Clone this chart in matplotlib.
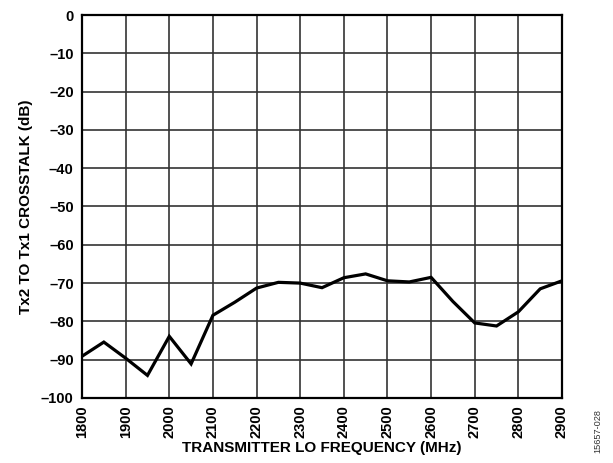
import matplotlib
matplotlib.use('Agg')
import matplotlib.pyplot as plt
from matplotlib.ticker import FuncFormatter

# crosstalk vs LO frequency
freq_mhz = [1800, 1850, 1900, 1950, 2000, 2050, 2100, 2150, 2200, 2250, 2300, 2350,
            2400, 2450, 2500, 2550, 2600, 2650, 2700, 2750, 2800, 2850, 2900]
crosstalk_db = [-89.1, -85.4, -89.6, -94.1, -83.9, -91.1, -78.4, -75.0, -71.3, -69.8, -70.0, -71.2,
                -68.6, -67.6, -69.4, -69.7, -68.5, -74.8, -80.4, -81.2, -77.5, -71.5, -69.4]

x_ticks = list(range(1800, 3000, 100))
y_ticks = list(range(-100, 10, 10))

plt.rcParams['font.family'] = ['Liberation Sans', 'DejaVu Sans']

fig = plt.figure(figsize=(6.13, 4.63), dpi=100)
ax = fig.add_axes([0.1338, 0.1404, 0.7830, 0.8272])

ax.plot(freq_mhz, crosstalk_db, color='black', linewidth=2.3, solid_joinstyle='miter', zorder=3)

ax.set_xlim(1800, 2900)
ax.set_ylim(-100, 0)
ax.set_xticks(x_ticks)
ax.set_yticks(y_ticks)
ax.yaxis.set_major_formatter(FuncFormatter(lambda v, p: ('%d' % v).replace('-', '\u2013')))
ax.grid(True, color='#333333', linewidth=1.2)
ax.tick_params(axis='y', length=0, pad=6, labelsize=10.5)
ax.tick_params(axis='x', length=0, pad=5, labelsize=10.5)
for lab in ax.get_xticklabels():
    lab.set_rotation(90)
    lab.set_fontweight('bold')
for lab in ax.get_yticklabels():
    lab.set_fontweight('bold')
for s in ax.spines.values():
    s.set_linewidth(1.6)
    s.set_color('black')

ax.set_xlabel('TRANSMITTER LO FREQUENCY (MHz)', fontsize=11, fontweight='bold', labelpad=2)
ax.set_ylabel('Tx2 TO Tx1 CROSSTALK (dB)', fontsize=11, fontweight='bold', labelpad=6)

fig.text(0.975, 0.069, '15657-028', rotation=90, fontsize=6.6, color='#333333',
         ha='center', va='center')

fig.savefig('out.png', dpi=100)
